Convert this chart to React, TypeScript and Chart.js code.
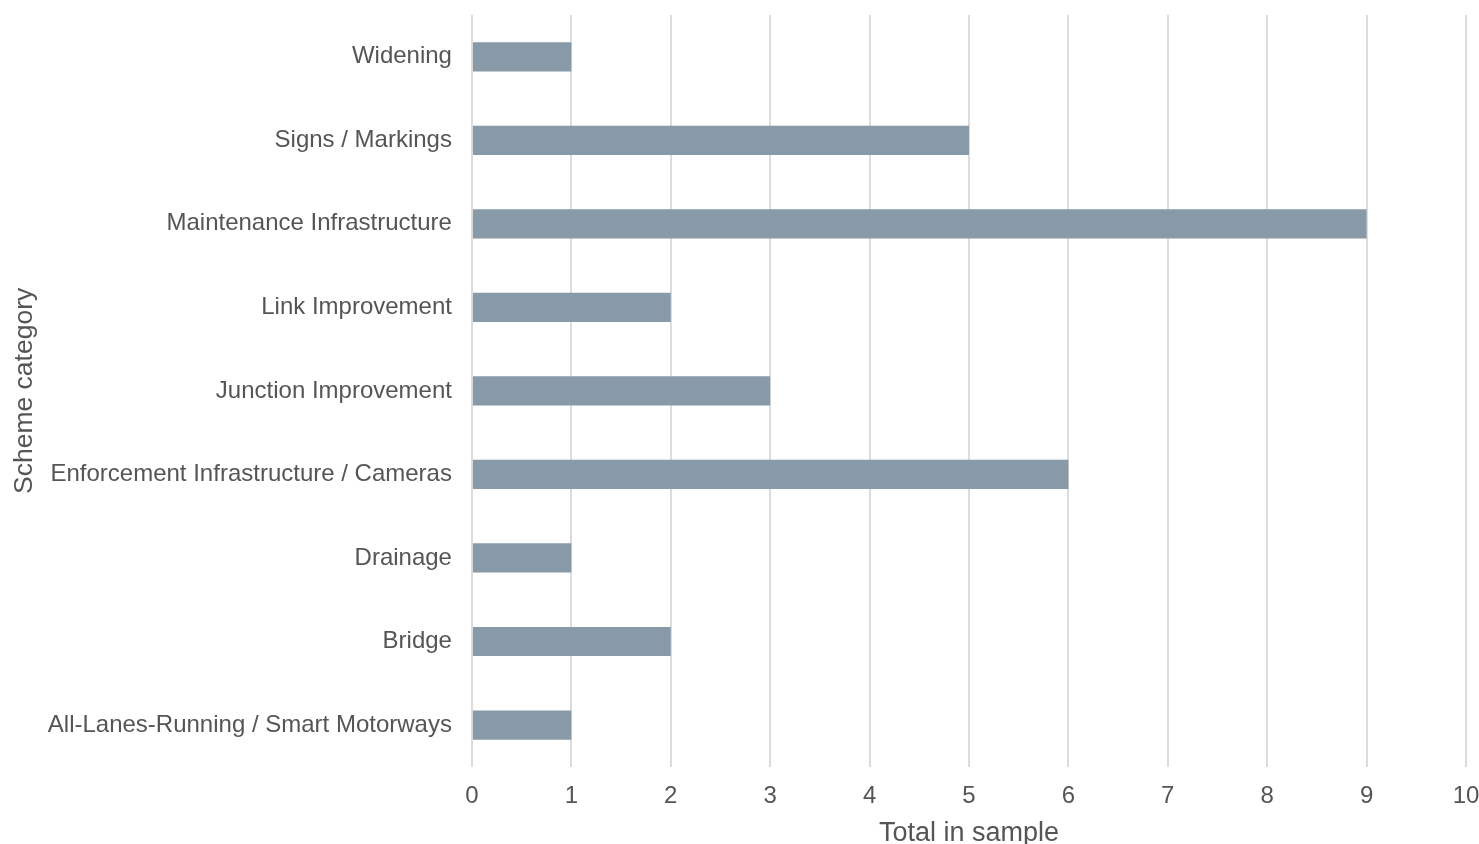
import React, { useEffect, useRef } from "react";
import { Chart, registerables } from "chart.js";

Chart.register(...registerables);

const categories = [
  "Widening",
  "Signs / Markings",
  "Maintenance Infrastructure",
  "Link Improvement",
  "Junction Improvement",
  "Enforcement Infrastructure / Cameras",
  "Drainage",
  "Bridge",
  "All-Lanes-Running / Smart Motorways",
];
const totals = [1, 5, 9, 2, 3, 6, 1, 2, 1];
const xTicks = [0, 1, 2, 3, 4, 5, 6, 7, 8, 9, 10];

export default function App() {
  const ref = useRef<HTMLCanvasElement | null>(null);
  useEffect(() => {
    document.body.style.margin = "0";
    const ctx = ref.current!;
    const chart = new Chart(ctx, {
      type: "bar",
      data: {
        labels: categories,
        datasets: [
          {
            data: totals,
            backgroundColor: "#8899a8",
            barPercentage: 0.35,
            categoryPercentage: 1,
          },
        ],
      },
      options: {
        indexAxis: "y",
        animation: false,
        responsive: true,
        maintainAspectRatio: false,
        layout: { padding: { top: 15, left: 2, right: 0, bottom: -6 } },
        plugins: { legend: { display: false }, tooltip: { enabled: false } },
        scales: {
          x: {
            min: 0,
            max: 10,
            afterBuildTicks: (axis: any) => {
              axis.ticks = xTicks.map((v) => ({ value: v }));
            },
            afterFit: (axis: any) => {
              axis.paddingRight = 13;
              axis.paddingLeft = 0;
            },
            grid: { color: "#dcdcdc", lineWidth: 2, drawTicks: false },
            border: { display: false },
            ticks: {
              color: "#555555",
              font: { family: "Liberation Sans, Arial", size: 24 },
              padding: 15,
            },
            title: {
              display: true,
              text: "Total in sample",
              color: "#555555",
              font: { family: "Liberation Sans, Arial", size: 27 },
              padding: { top: -8, bottom: 0 },
            },
          },
          y: {
            afterFit: (axis: any) => {
              axis.paddingTop = 0;
              axis.paddingBottom = 0;
            },
            grid: { display: false },
            border: { display: false },
            ticks: {
              color: "#555555",
              font: { family: "Liberation Sans, Arial", size: 24 },
              padding: 12,
            },
            title: {
              display: true,
              text: "Scheme category",
              color: "#555555",
              font: { family: "Liberation Sans, Arial", size: 26.5 },
              padding: { top: 7, bottom: -5 },
            },
          },
        },
      },
    });
    return () => chart.destroy();
  }, []);
  return (
    <div style={{ position: "fixed", left: 0, top: 0, width: 1479, height: 844 }}>
      <canvas ref={ref} />
    </div>
  );
}
